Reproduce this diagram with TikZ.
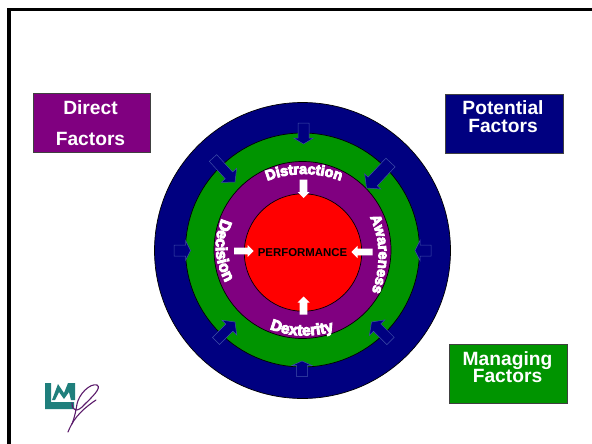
\documentclass[tikz,border=0pt]{standalone}
\usepackage{fontspec}
\setmainfont{Liberation Sans}
\newfontfamily\wafont[FakeBold=6]{Liberation Sans Bold}
\usetikzlibrary{calc,decorations.text}
\definecolor{navyc}{HTML}{000080}
\definecolor{greenc}{HTML}{009400}
\definecolor{purplec}{HTML}{800080}
\definecolor{redc}{HTML}{FF0000}
\definecolor{tealc}{HTML}{1F7F7C}
\definecolor{inkc}{HTML}{5B1B6B}
\definecolor{edgec}{HTML}{3F4FA8}
\tikzset{
  ring/.style={draw=black,line width=0.7pt},
  factorbox/.style={draw=black!75,line width=0.8pt,rectangle,minimum width=117.5pt,minimum height=58.5pt,inner sep=0pt,anchor=north west},
  factortext/.style={text=white,font=\fontsize{19.2}{20}\bfseries\selectfont,anchor=base,inner sep=0pt},
  navyarrow/.style={fill=navyc,draw=edgec,line width=0.5pt,line join=miter},
  whitearrow/.style={fill=white,draw=none},
  logofill/.style={fill=tealc,draw=none},
  logoink/.style={draw=inkc,line width=1.1pt,line cap=round},
  curveword/.style n args={2}{decorate,decoration={text along path,text align=center,text color=white,text={|\fontsize{#1}{#1}\wafont|#2}}}
}
% tail x,y; tip x,y; half shaft; half head; head length; style
\newcommand{\blockarw}[8]{%
  \coordinate (A) at (#1,#2);
  \coordinate (B) at (#3,#4);
  \coordinate (H) at ($(B)!#7pt!(A)$);
  \path[#8] ($(A)!#5pt!90:(B)$) -- ($(H)!#5pt!-90:(A)$) -- ($(H)!#6pt!-90:(A)$) -- (B)
     -- ($(H)!#6pt!90:(A)$) -- ($(H)!#5pt!90:(A)$) -- ($(A)!#5pt!-90:(B)$) -- cycle;
}
\begin{document}
\begin{tikzpicture}[x=1pt,y=-1pt]
\useasboundingbox (0,0) rectangle (592,444);
\fill[white] (0,0) rectangle (592,444);
\draw[black,line width=3.2pt,line join=miter] (9,444) -- (9,9.5) -- (592,9.5);

% rings
\path[ring,fill=navyc] (302.5,250.5) circle[radius=148];
\path[ring,fill=greenc] (302.5,250) circle[radius=117];
\path[ring,fill=purplec] (302.5,250) circle[radius=88.5];
\path[ring,fill=redc] (303,252.5) circle[radius=58.7];

% navy arrows
\blockarw{303.5}{123}{303.5}{144}{5.5}{10}{6}{navyarrow}
\blockarw{213}{158}{235}{182}{5}{10.5}{9}{navyarrow}
\blockarw{390.5}{162.5}{366.5}{188}{6.3}{11}{9}{navyarrow}
\blockarw{174}{250.5}{190.5}{250.5}{5.5}{10}{5}{navyarrow}
\blockarw{431}{250.5}{415}{250.5}{5.5}{10}{5}{navyarrow}
\blockarw{216}{341}{235}{322}{5}{10.5}{8}{navyarrow}
\blockarw{390.5}{341}{371.5}{322}{5.2}{11}{8}{navyarrow}
\blockarw{302}{376.5}{302}{361}{5.3}{10}{4.5}{navyarrow}

% white arrows
\blockarw{303.5}{179.5}{303.5}{198}{3.8}{6}{6}{whitearrow}
\blockarw{234}{251}{253.5}{251}{3.4}{6.2}{6}{whitearrow}
\blockarw{372.5}{252}{351.5}{252}{3.4}{6.2}{6}{whitearrow}
\blockarw{303.5}{314.5}{303.5}{296.5}{3.8}{6}{6}{whitearrow}

% curved words
\path[curveword={14.4}{Distraction}] (262,183) .. controls (289,171) and (319,171) .. (346,183);
\path[curveword={16}{Decision}] (224,214) .. controls (212,238) and (213,262) .. (228,287);
\path[curveword={14.6}{Awareness}] (369,215) .. controls (381,240) and (382,265) .. (371,294);
\path[curveword={15.4}{Dexterity}] (265,327) .. controls (290,338) and (315,338) .. (339,329);

\node[font=\fontsize{11.4}{12}\bfseries\selectfont,text=black,inner sep=0pt,anchor=base] (perf) at (302.5,256.5) {PERFORMANCE};

% factor boxes
\node[factorbox,fill=purplec] (direct) at (32.5,93.5) {};
\node[factortext] (directa) at (90.5,114) {Direct};
\node[factortext] (directb) at (90.5,145) {Factors};
\node[factorbox,fill=navyc] (potential) at (445,94) {};
\node[factortext] (potentiala) at (503,114) {Potential};
\node[factortext] (potentialb) at (503,132.7) {Factors};
\node[factorbox,fill=greenc] (managing) at (449,344) {};
\node[factortext] (managinga) at (507.5,365) {Managing};
\node[factortext] (managingb) at (507.5,382.7) {Factors};

% logo
\fill[logofill] (45,383) -- (51,383) -- (51,402) -- (74,402) -- (74,409) -- (45,409) -- cycle;
\fill[logofill] (52,400) -- (58,384) -- (64,393) -- (68,383) -- (75,383) -- (75,400) -- (71,400) -- (69,392) -- (64,399) -- (59,392) -- (55,400) -- cycle;
\draw[logoink] (68,432) .. controls (72,422) and (78,412) .. (96,400);
\draw[logoink] (72,403) .. controls (72,412) and (78,412) .. (84,405) .. controls (92,397) and (102,388) .. (97,385) .. controls (90,383) and (79,394) .. (77,404) .. controls (76,410) and (75,416) .. (72,424);
\end{tikzpicture}
\end{document}
